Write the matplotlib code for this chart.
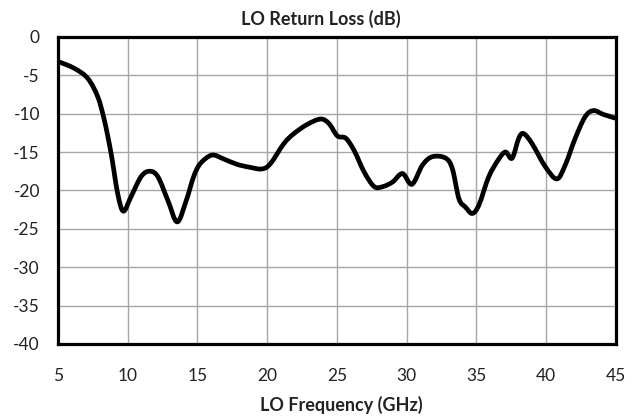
import matplotlib
matplotlib.use("Agg")
import matplotlib.pyplot as plt
from matplotlib.path import Path
from matplotlib.patches import PathPatch
import numpy as np

# LO return loss trace
freq_ghz = [5.0, 6.17, 7.13, 7.85, 8.33, 8.81, 9.28, 9.69, 10.24, 10.96, 11.56,
            12.16, 12.88, 13.55, 14.2, 14.73, 15.21, 16.04, 16.88, 17.84, 18.8,
            19.64, 20.24, 21.2, 21.92, 22.88, 23.84, 24.44, 25.04, 25.64, 26.24,
            26.96, 27.68, 28.3, 29.0, 29.71, 30.39, 31.14, 31.86, 32.81, 33.29,
            33.76, 34.24, 34.71, 35.19, 35.9, 36.62, 37.1, 37.57, 38.05, 38.4,
            39.0, 39.95, 40.78, 41.38, 42.1, 42.81, 43.41, 44.12, 45.0]
return_loss_db = [-3.2, -4.1, -5.4, -7.8, -10.9, -15.2, -20.4, -22.7, -20.8, -18.2, -17.5,
                  -18.2, -21.3, -24.1, -21.3, -18.2, -16.5, -15.4, -15.9, -16.6, -17.0,
                  -17.2, -16.5, -13.9, -12.6, -11.4, -10.7, -11.3, -12.9, -13.2, -14.8,
                  -17.6, -19.5, -19.5, -18.9, -17.8, -19.2, -16.7, -15.6, -15.8, -17.2,
                  -21.1, -22.2, -23.0, -21.9, -18.2, -15.9, -15.0, -15.8, -13.2, -12.6,
                  -13.9, -16.9, -18.5, -16.7, -13.2, -10.4, -9.6, -10.1, -10.6]

x_ticks = [5, 10, 15, 20, 25, 30, 35, 40, 45]
y_ticks = [0, -5, -10, -15, -20, -25, -30, -35, -40]


def smooth_path(xs, ys):
    """Excel-style smoothed line: cubic Bezier segments through every point"""
    p = np.column_stack([xs, ys])
    verts = [p[0]]
    codes = [Path.MOVETO]
    for i in range(len(p) - 1):
        p0 = p[i - 1] if i > 0 else p[i]
        p3 = p[i + 2] if i + 2 < len(p) else p[i + 1]
        c1 = p[i] + (p[i + 1] - p0) / 6
        c2 = p[i + 1] - (p3 - p[i]) / 6
        verts += [c1, c2, p[i + 1]]
        codes += [Path.CURVE4] * 3
    return Path(verts, codes)


plt.rcParams['font.family'] = ['Lato', 'DejaVu Sans']
plt.rcParams['axes.unicode_minus'] = False

fig = plt.figure(figsize=(6.41, 4.19), dpi=100)
ax = fig.add_axes([0.0905, 0.179, 0.870, 0.733])

trace = PathPatch(smooth_path(freq_ghz, return_loss_db), facecolor='none',
                  edgecolor='black', linewidth=3.4, joinstyle='round',
                  capstyle='round', zorder=3)
ax.add_patch(trace)

ax.set_xlim(5, 45)
ax.set_ylim(-40, 0)
ax.set_xticks(x_ticks)
ax.set_yticks(y_ticks)
ax.tick_params(length=0, labelsize=12.5, colors='#222222')
ax.tick_params(axis='x', pad=17)
ax.tick_params(axis='y', pad=13)
ax.grid(True, color='#a6a6a6', linewidth=1.0)
ax.set_axisbelow(True)

for side in ax.spines.values():
    side.set_linewidth(2.3)
    side.set_color('black')

fig.text(0.5, 0.955, 'LO Return Loss (dB)', ha='center', va='center',
         fontsize=13, fontweight='bold', color='#222222')
fig.text(0.532, 0.033, 'LO Frequency (GHz)', ha='center', va='center',
         fontsize=13, fontweight='bold', color='#222222')

fig.savefig('out.png', dpi=100)
